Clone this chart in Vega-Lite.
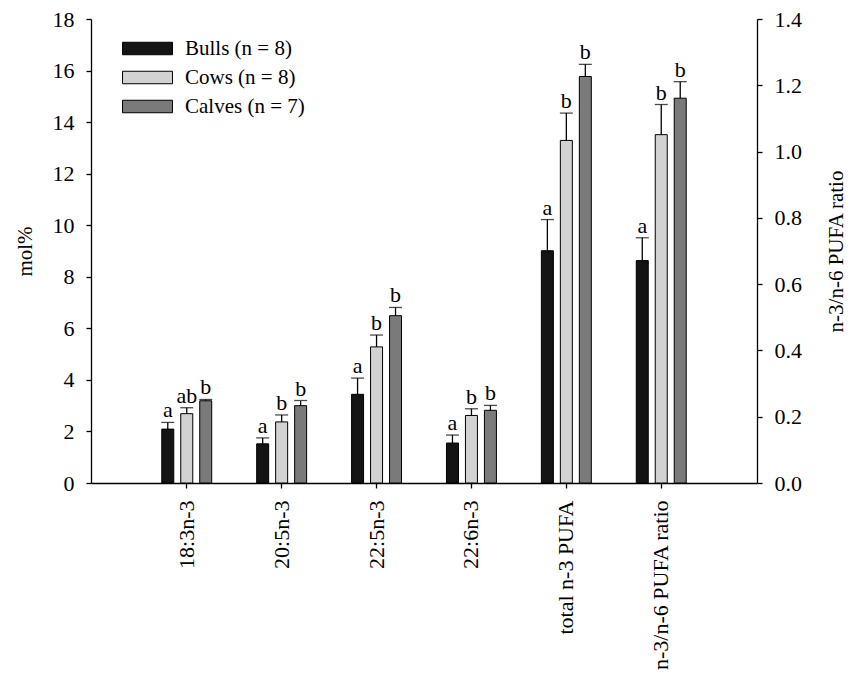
{
  "$schema": "https://vega.github.io/schema/vega-lite/v6.json",
  "width": 666,
  "height": 464,
  "autosize": {"type": "none"},
  "padding": {"left": 91, "top": 19, "right": 96, "bottom": 193},
  "background": "white",
  "config": {
    "view": {"stroke": null},
    "font": "Liberation Serif",
    "axis": {
      "domainColor": "black", "domainWidth": 1.3, "tickColor": "black", "tickWidth": 1.3,
      "tickSize": 5, "labelColor": "black", "labelFont": "Liberation Serif", "labelFontSize": 22,
      "titleFont": "Liberation Serif", "titleFontSize": 21, "titleFontWeight": "normal", "titleColor": "black", "grid": false
    }
  },
  "data": {
    "values": [
      {"cat": "18:3n-3", "group": "Bulls (n = 8)", "value": 2.09, "upper": 2.35, "letter": "a", "axis": "mol"},
      {"cat": "18:3n-3", "group": "Cows (n = 8)", "value": 2.69, "upper": 2.92, "letter": "ab", "axis": "mol"},
      {"cat": "18:3n-3", "group": "Calves (n = 7)", "value": 3.19, "upper": 3.24, "letter": "b", "axis": "mol"},
      {"cat": "20:5n-3", "group": "Bulls (n = 8)", "value": 1.52, "upper": 1.75, "letter": "a", "axis": "mol"},
      {"cat": "20:5n-3", "group": "Cows (n = 8)", "value": 2.37, "upper": 2.64, "letter": "b", "axis": "mol"},
      {"cat": "20:5n-3", "group": "Calves (n = 7)", "value": 3.0, "upper": 3.2, "letter": "b", "axis": "mol"},
      {"cat": "22:5n-3", "group": "Bulls (n = 8)", "value": 3.44, "upper": 4.07, "letter": "a", "axis": "mol"},
      {"cat": "22:5n-3", "group": "Cows (n = 8)", "value": 5.28, "upper": 5.74, "letter": "b", "axis": "mol"},
      {"cat": "22:5n-3", "group": "Calves (n = 7)", "value": 6.49, "upper": 6.81, "letter": "b", "axis": "mol"},
      {"cat": "22:6n-3", "group": "Bulls (n = 8)", "value": 1.55, "upper": 1.86, "letter": "a", "axis": "mol"},
      {"cat": "22:6n-3", "group": "Cows (n = 8)", "value": 2.62, "upper": 2.88, "letter": "b", "axis": "mol"},
      {"cat": "22:6n-3", "group": "Calves (n = 7)", "value": 2.82, "upper": 3.01, "letter": "b", "axis": "mol"},
      {"cat": "total n-3 PUFA", "group": "Bulls (n = 8)", "value": 9.01, "upper": 10.22, "letter": "a", "axis": "mol"},
      {"cat": "total n-3 PUFA", "group": "Cows (n = 8)", "value": 13.29, "upper": 14.35, "letter": "b", "axis": "mol"},
      {"cat": "total n-3 PUFA", "group": "Calves (n = 7)", "value": 15.77, "upper": 16.24, "letter": "b", "axis": "mol"},
      {"cat": "n-3/n-6 PUFA ratio", "group": "Bulls (n = 8)", "value": 0.671, "upper": 0.74, "letter": "a", "axis": "ratio"},
      {"cat": "n-3/n-6 PUFA ratio", "group": "Cows (n = 8)", "value": 1.051, "upper": 1.142, "letter": "b", "axis": "ratio"},
      {"cat": "n-3/n-6 PUFA ratio", "group": "Calves (n = 7)", "value": 1.161, "upper": 1.211, "letter": "b", "axis": "ratio"}
    ]
  },
  "encoding": {
    "x": {
      "field": "cat", "type": "nominal", "sort": null,
      "scale": {"domain": ["18:3n-3", "20:5n-3", "22:5n-3", "22:6n-3", "total n-3 PUFA", "n-3/n-6 PUFA ratio"], "paddingInner": 0.4, "paddingOuter": 0.709},
      "axis": {"title": null, "labelAngle": 270, "labelPadding": 12, "labelAlign": "right", "labelBaseline": "middle"}
    },
    "xOffset": {
      "field": "group", "type": "nominal", "sort": null,
      "scale": {"domain": ["Bulls (n = 8)", "Cows (n = 8)", "Calves (n = 7)"], "paddingInner": 0.368, "paddingOuter": 0.184}
    }
  },
  "layer": [
    {
      "transform": [{"filter": "datum.axis == 'mol'"}],
      "encoding": {
        "y": {
          "field": "value", "type": "quantitative",
          "scale": {"domain": [0, 18], "nice": false},
          "axis": {"title": "mol%", "values": [0, 2, 4, 6, 8, 10, 12, 14, 16, 18], "labelPadding": 12,
                   "titleX": -66, "titleY": 232, "titleAngle": 270, "titleAlign": "center", "titleBaseline": "middle"}
        }
      },
      "layer": [
        {
          "mark": {"type": "bar", "stroke": "black", "strokeWidth": 1},
          "encoding": {
            "color": {
              "field": "group", "type": "nominal",
              "scale": {"domain": ["Bulls (n = 8)", "Cows (n = 8)", "Calves (n = 7)"], "range": ["#141414", "#d2d2d2", "#7a7a7a"]},
              "legend": {
                "title": null, "orient": "none", "legendX": 46, "legendY": 19, "padding": 0,
                "symbolType": "M-4,-1H4V1H-4Z", "symbolSize": 156, "symbolStrokeColor": "black", "symbolStrokeWidth": 1,
                "symbolOpacity": 1, "labelFont": "Liberation Serif", "labelFontSize": 21, "labelColor": "black",
                "labelOffset": 27, "rowPadding": 7
              }
            }
          }
        },
        {
          "mark": {"type": "rule", "color": "black", "strokeWidth": 1.3},
          "encoding": {"y2": {"field": "upper"}}
        },
        {
          "mark": {"type": "tick", "color": "black", "size": 13, "thickness": 1.3},
          "encoding": {"y": {"field": "upper", "type": "quantitative"}}
        },
        {
          "mark": {"type": "text", "color": "black", "font": "Liberation Serif", "fontSize": 22, "baseline": "alphabetic", "dy": -5},
          "encoding": {"y": {"field": "upper", "type": "quantitative"}, "text": {"field": "letter"}}
        }
      ]
    },
    {
      "transform": [{"filter": "datum.axis == 'ratio'"}],
      "encoding": {
        "y": {
          "field": "value", "type": "quantitative",
          "scale": {"domain": [0, 1.4], "nice": false},
          "axis": {"title": "n-3/n-6 PUFA ratio", "orient": "right", "values": [0, 0.2, 0.4, 0.6, 0.8, 1.0, 1.2, 1.4], "format": ".1f", "labelPadding": 12,
                   "titleX": 79, "titleY": 232, "titleAngle": 270, "titleAlign": "center", "titleBaseline": "middle"}
        }
      },
      "layer": [
        {
          "mark": {"type": "bar", "stroke": "black", "strokeWidth": 1},
          "encoding": {
            "color": {"field": "group", "type": "nominal", "legend": null}
          }
        },
        {
          "mark": {"type": "rule", "color": "black", "strokeWidth": 1.3},
          "encoding": {"y2": {"field": "upper"}}
        },
        {
          "mark": {"type": "tick", "color": "black", "size": 13, "thickness": 1.3},
          "encoding": {"y": {"field": "upper", "type": "quantitative"}}
        },
        {
          "mark": {"type": "text", "color": "black", "font": "Liberation Serif", "fontSize": 22, "baseline": "alphabetic", "dy": -5},
          "encoding": {"y": {"field": "upper", "type": "quantitative"}, "text": {"field": "letter"}}
        }
      ]
    }
  ],
  "resolve": {"scale": {"y": "independent"}, "axis": {"y": "independent"}}
}
